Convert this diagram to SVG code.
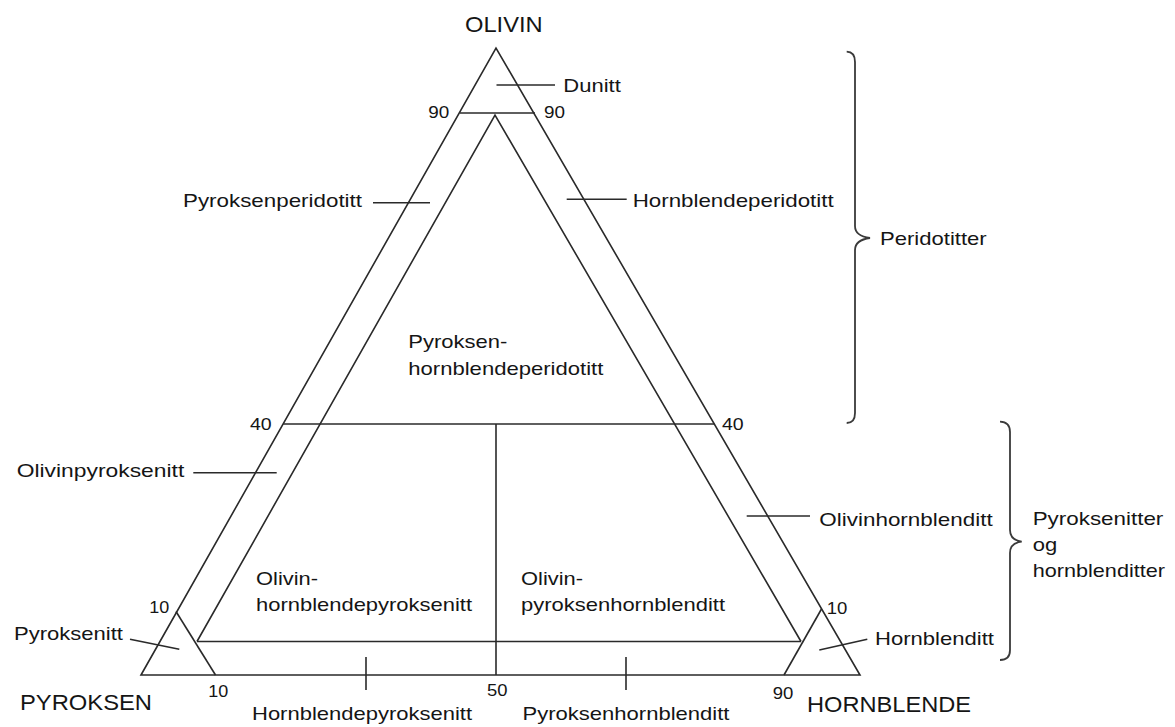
<svg xmlns="http://www.w3.org/2000/svg" width="1175" height="727" viewBox="0 0 1175 727">
  <style>
    .ln { stroke: #2a2a2a; stroke-width: 1.6; fill: none; stroke-linecap: butt; }
    .br { stroke: #3a3a3a; stroke-width: 1.8; fill: none; }
    text { font-family: "Liberation Sans", Arial, Helvetica, sans-serif; fill: #151515; }
    .lbl { font-size: 19px; }
    .num { font-size: 17px; }
    .cap { font-size: 22px; }
  </style>
  <rect x="0" y="0" width="1175" height="727" fill="#ffffff"/>

  <!-- ternary frame and field boundaries -->
  <g id="connectors">
    <polygon class="ln" points="141,675 496,48 860,675"/>
    <line class="ln" x1="460" y1="113" x2="535" y2="113"/>
    <polyline class="ln" points="197,641.5 495,115 801,641.5"/>
    <line class="ln" x1="197" y1="641.5" x2="801" y2="641.5"/>
    <line class="ln" x1="283.3" y1="424" x2="714.3" y2="424"/>
    <line class="ln" x1="496" y1="424" x2="496" y2="675"/>
    <line class="ln" x1="176" y1="611.5" x2="215.5" y2="675"/>
    <line class="ln" x1="821.5" y1="609" x2="784" y2="675"/>
    <line class="ln" x1="366" y1="657" x2="366" y2="690"/>
    <line class="ln" x1="626" y1="657" x2="626" y2="690"/>
    <!-- leader lines -->
    <line class="ln" x1="496.5" y1="85" x2="555" y2="85"/>
    <line class="ln" x1="373" y1="202.7" x2="430" y2="202.7"/>
    <line class="ln" x1="566.7" y1="199.3" x2="626.7" y2="199.3"/>
    <line class="ln" x1="193.3" y1="472.7" x2="276.7" y2="472.7"/>
    <line class="ln" x1="746.7" y1="516" x2="810" y2="516"/>
    <line class="ln" x1="130" y1="639.3" x2="179.3" y2="649.3"/>
    <line class="ln" x1="819.3" y1="650" x2="867.3" y2="639.3"/>
    <!-- braces -->
    <path class="br" d="M846.7,51.7 Q855,52 855,62 L855,226 Q855,236 870,238 Q855,240 855,250 L855,413 Q855,423 846.7,423"/>
    <path class="br" d="M1000,421.7 Q1010,422 1010,432 L1010,530 Q1010,540 1021.7,541.7 Q1010,543 1010,553 L1010,650 Q1010,660 1000,660"/>
  </g>

  <!-- corner labels -->
  <g id="corner-olivin"><text class="cap" x="465" y="31.7" textLength="77.7" lengthAdjust="spacingAndGlyphs">OLIVIN</text></g>
  <g id="corner-pyroksen"><text class="cap" x="20" y="710" textLength="132" lengthAdjust="spacingAndGlyphs">PYROKSEN</text></g>
  <g id="corner-hornblende"><text class="cap" x="807" y="711.7" textLength="164" lengthAdjust="spacingAndGlyphs">HORNBLENDE</text></g>

  <!-- scale numbers -->
  <g id="scale">
    <text class="num" x="428.3" y="118.3" textLength="21" lengthAdjust="spacingAndGlyphs">90</text>
    <text class="num" x="544" y="118.3" textLength="21" lengthAdjust="spacingAndGlyphs">90</text>
    <text class="num" x="250" y="430" textLength="21.7" lengthAdjust="spacingAndGlyphs">40</text>
    <text class="num" x="722" y="430" textLength="21.7" lengthAdjust="spacingAndGlyphs">40</text>
    <text class="num" x="149.3" y="613.3" textLength="20" lengthAdjust="spacingAndGlyphs">10</text>
    <text class="num" x="826.7" y="614.3" textLength="20.6" lengthAdjust="spacingAndGlyphs">10</text>
    <text class="num" x="208.3" y="696.7" textLength="20" lengthAdjust="spacingAndGlyphs">10</text>
    <text class="num" x="487" y="696" textLength="20.5" lengthAdjust="spacingAndGlyphs">50</text>
    <text class="num" x="772.7" y="699.3" textLength="20.6" lengthAdjust="spacingAndGlyphs">90</text>
  </g>

  <!-- rock name fields -->
  <g id="dunitt"><text class="lbl" x="563.3" y="91.7" textLength="57.5" lengthAdjust="spacingAndGlyphs">Dunitt</text></g>
  <g id="pyroksenperidotitt"><text class="lbl" x="183" y="206.7" textLength="179" lengthAdjust="spacingAndGlyphs">Pyroksenperidotitt</text></g>
  <g id="hornblendeperidotitt"><text class="lbl" x="632.7" y="206.7" textLength="201" lengthAdjust="spacingAndGlyphs">Hornblendeperidotitt</text></g>
  <g id="pyroksen-hornblendeperidotitt">
    <text class="lbl" x="408.3" y="348.3" textLength="99" lengthAdjust="spacingAndGlyphs">Pyroksen-</text>
    <text class="lbl" x="408.3" y="375" textLength="195" lengthAdjust="spacingAndGlyphs">hornblendeperidotitt</text>
  </g>
  <g id="olivinpyroksenitt"><text class="lbl" x="16.7" y="477.3" textLength="167.6" lengthAdjust="spacingAndGlyphs">Olivinpyroksenitt</text></g>
  <g id="olivinhornblenditt"><text class="lbl" x="819.3" y="525.5" textLength="173.4" lengthAdjust="spacingAndGlyphs">Olivinhornblenditt</text></g>
  <g id="olivin-hornblendepyroksenitt">
    <text class="lbl" x="256" y="585" textLength="62" lengthAdjust="spacingAndGlyphs">Olivin-</text>
    <text class="lbl" x="256" y="611" textLength="216" lengthAdjust="spacingAndGlyphs">hornblendepyroksenitt</text>
  </g>
  <g id="olivin-pyroksenhornblenditt">
    <text class="lbl" x="521" y="585" textLength="62" lengthAdjust="spacingAndGlyphs">Olivin-</text>
    <text class="lbl" x="521" y="611" textLength="204" lengthAdjust="spacingAndGlyphs">pyroksenhornblenditt</text>
  </g>
  <g id="pyroksenitt"><text class="lbl" x="14" y="640" textLength="109" lengthAdjust="spacingAndGlyphs">Pyroksenitt</text></g>
  <g id="hornblenditt"><text class="lbl" x="875" y="645" textLength="119" lengthAdjust="spacingAndGlyphs">Hornblenditt</text></g>
  <g id="hornblendepyroksenitt"><text class="lbl" x="252" y="720" textLength="220" lengthAdjust="spacingAndGlyphs">Hornblendepyroksenitt</text></g>
  <g id="pyroksenhornblenditt"><text class="lbl" x="522.5" y="720" textLength="207" lengthAdjust="spacingAndGlyphs">Pyroksenhornblenditt</text></g>

  <!-- group labels -->
  <g id="peridotitter"><text class="lbl" x="880" y="245" textLength="106.7" lengthAdjust="spacingAndGlyphs">Peridotitter</text></g>
  <g id="pyroksenitter-og-hornblenditter">
    <text class="lbl" x="1032.7" y="525" textLength="130.6" lengthAdjust="spacingAndGlyphs">Pyroksenitter</text>
    <text class="lbl" x="1032.7" y="550.5" textLength="24.5" lengthAdjust="spacingAndGlyphs">og</text>
    <text class="lbl" x="1032.7" y="576.5" textLength="132.3" lengthAdjust="spacingAndGlyphs">hornblenditter</text>
  </g>
</svg>
